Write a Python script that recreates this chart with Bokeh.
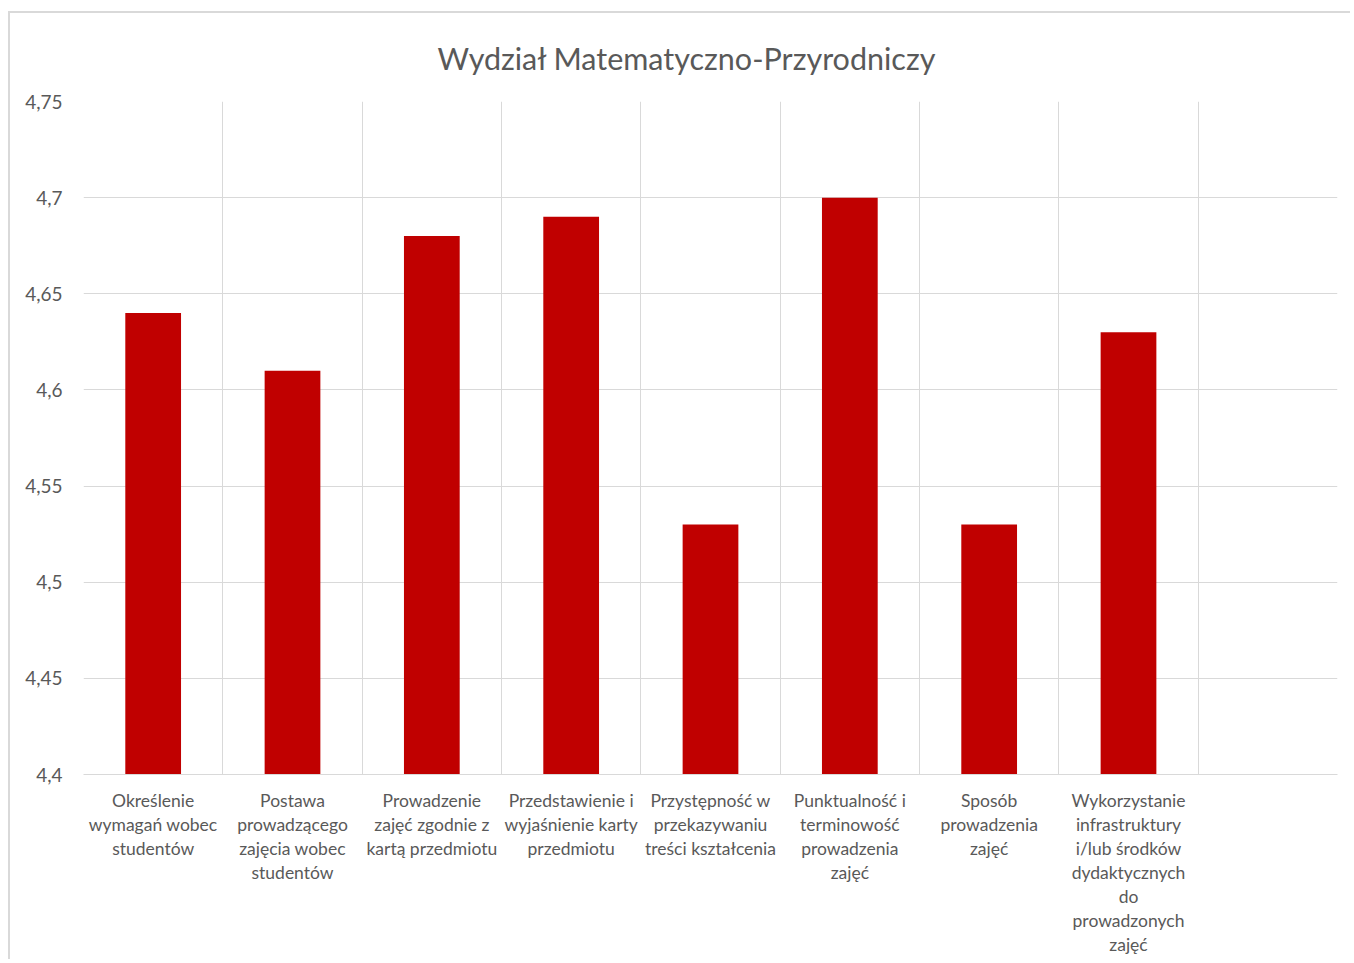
from bokeh.plotting import figure
from bokeh.models import FixedTicker, Title, Range1d
from bokeh.embed import file_html
from bokeh.resources import INLINE

categories = [
    "Określenie\nwymagań wobec\nstudentów",
    "Postawa\nprowadzącego\nzajęcia wobec\nstudentów",
    "Prowadzenie\nzajęć zgodnie z\nkartą przedmiotu",
    "Przedstawienie i\nwyjaśnienie karty\nprzedmiotu",
    "Przystępność w\nprzekazywaniu\ntreści kształcenia",
    "Punktualność i\nterminowość\nprowadzenia\nzajęć",
    "Sposób\nprowadzenia\nzajęć",
    "Wykorzystanie\ninfrastruktury\ni/lub środków\ndydaktycznych\ndo\nprowadzonych\nzajęć",
]
values = [4.64, 4.61, 4.68, 4.69, 4.53, 4.70, 4.53, 4.63]
n_slots = 9  # one empty slot at the end
y_ticks = [4.4, 4.45, 4.5, 4.55, 4.6, 4.65, 4.7, 4.75]
y_tick_labels = ["4,4", "4,45", "4,5", "4,55", "4,6", "4,65", "4,7", "4,75"]
title_text = "Wydział Matematyczno-Przyrodniczy"

FONT = "Lato"
GRAY = "#595959"
GRID = "#d9d9d9"

xs = list(range(1, len(values) + 1))

p = figure(
    output_backend="svg", toolbar_location=None,
    frame_width=1254, frame_height=673,
    min_border_left=73, min_border_top=88, min_border_right=13, min_border_bottom=185,
    x_range=Range1d(0.5, n_slots + 0.5), y_range=Range1d(y_ticks[0], y_ticks[-1]),
    background_fill_color="white", border_fill_color="white",
)
p.outline_line_color = None
p.styles = {"border-left": "2px solid #d9d9d9", "border-top": "2px solid #d9d9d9",
            "margin-top": "11px", "margin-left": "8px"}

p.vbar(x=xs, top=values, bottom=y_ticks[0], width=0.4, fill_color="#C00000", line_color=None)

t = Title(text=title_text, align="left", vertical_align="middle", text_font=FONT,
          text_font_size="30.5px", text_color=GRAY, text_font_style="normal",
          standoff=50, offset=354)
p.add_layout(t, "above")

# x axis
p.xaxis.ticker = FixedTicker(ticks=xs)
p.xaxis.major_label_overrides = {x: c for x, c in zip(xs, categories)}
p.xaxis.major_label_text_font = FONT
p.xaxis.major_label_text_font_size = "17.5px"
p.xaxis.major_label_text_color = GRAY
p.xaxis.major_label_text_line_height = 1.145
p.xaxis.major_label_standoff = 9
p.xaxis.axis_line_color = GRID
p.xaxis.major_tick_line_color = None
p.xaxis.minor_tick_line_color = None

# y axis
p.yaxis.ticker = FixedTicker(ticks=y_ticks)
p.yaxis.major_label_overrides = {v: l for v, l in zip(y_ticks, y_tick_labels)}
p.yaxis.major_label_text_font = FONT
p.yaxis.major_label_text_font_size = "19px"
p.yaxis.major_label_text_color = GRAY
p.yaxis.major_label_standoff = 15
p.yaxis.axis_line_color = None
p.yaxis.major_tick_line_color = None
p.yaxis.minor_tick_line_color = None

# grids
p.xgrid.ticker = FixedTicker(ticks=[i + 0.5 for i in range(n_slots + 1)])
p.xgrid.grid_line_color = GRID
p.ygrid.grid_line_color = GRID

open("out.html", "w").write(file_html(p, INLINE))
